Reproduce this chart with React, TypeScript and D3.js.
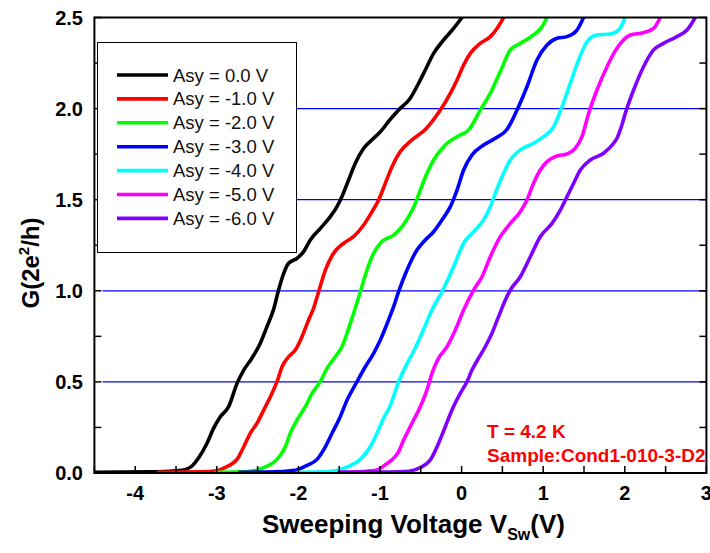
import React from "react";
import * as d3 from "d3";

// Conductance G (in units of 2e^2/h) versus sweeping voltage, one trace per asymmetry bias
const asy0: [number, number][] = [
  [-4.5, 0.004], [-3.8, 0.006], [-3.5, 0.012], [-3.38, 0.02], [-3.3, 0.04], [-3.22, 0.085],
  [-3.12, 0.163], [-3.04, 0.245], [-2.957, 0.309], [-2.855, 0.364], [-2.752, 0.492], [-2.67, 0.565],
  [-2.57, 0.63], [-2.467, 0.712], [-2.385, 0.803], [-2.3, 0.904], [-2.243, 1.004], [-2.18, 1.096],
  [-2.12, 1.151], [-2.017, 1.178], [-1.936, 1.215], [-1.854, 1.279], [-1.73, 1.343], [-1.609, 1.407],
  [-1.527, 1.462], [-1.466, 1.517], [-1.385, 1.608], [-1.303, 1.7], [-1.2, 1.782], [-1.078, 1.837],
  [-0.975, 1.883], [-0.914, 1.919], [-0.772, 1.992], [-0.629, 2.057], [-0.527, 2.139], [-0.445, 2.212],
  [-0.343, 2.303], [-0.22, 2.377], [-0.098, 2.44], [0.005, 2.5],
];
const asy1: [number, number][] = [
  [-3.72, 0.004], [-3.2, 0.006], [-3.0, 0.012], [-2.9, 0.03], [-2.8, 0.055], [-2.752, 0.075],
  [-2.67, 0.144], [-2.59, 0.218], [-2.507, 0.273], [-2.405, 0.364], [-2.324, 0.437], [-2.262, 0.501],
  [-2.2, 0.583], [-2.12, 0.638], [-2.038, 0.675], [-1.956, 0.748], [-1.875, 0.84], [-1.814, 0.904],
  [-1.752, 0.995], [-1.67, 1.114], [-1.569, 1.206], [-1.446, 1.261], [-1.324, 1.297], [-1.2, 1.361],
  [-1.098, 1.434], [-1.017, 1.498], [-0.935, 1.59], [-0.853, 1.681], [-0.751, 1.764], [-0.608, 1.828],
  [-0.445, 1.885], [-0.261, 1.992], [-0.138, 2.084], [-0.056, 2.157], [0.025, 2.239], [0.107, 2.303],
  [0.229, 2.358], [0.352, 2.395], [0.434, 2.44], [0.515, 2.5],
];
const asy2: [number, number][] = [
  [-3.0, 0.004], [-2.7, 0.006], [-2.55, 0.012], [-2.45, 0.025], [-2.35, 0.045], [-2.262, 0.075],
  [-2.16, 0.144], [-2.1, 0.218], [-2.017, 0.291], [-1.915, 0.364], [-1.833, 0.437], [-1.732, 0.501],
  [-1.65, 0.574], [-1.548, 0.638], [-1.466, 0.693], [-1.404, 0.767], [-1.323, 0.877], [-1.241, 0.995],
  [-1.16, 1.114], [-1.078, 1.206], [-0.976, 1.27], [-0.833, 1.306], [-0.73, 1.352], [-0.649, 1.407],
  [-0.567, 1.48], [-0.506, 1.553], [-0.424, 1.645], [-0.343, 1.718], [-0.22, 1.791], [-0.056, 1.846],
  [0.09, 1.885], [0.229, 1.992], [0.352, 2.084], [0.474, 2.203], [0.597, 2.322], [0.719, 2.358],
  [0.882, 2.404], [0.985, 2.449], [1.047, 2.5],
];
const asy3: [number, number][] = [
  [-2.72, 0.004], [-2.3, 0.006], [-2.1, 0.012], [-2.0, 0.02], [-1.9, 0.04], [-1.772, 0.075],
  [-1.67, 0.144], [-1.588, 0.218], [-1.487, 0.309], [-1.404, 0.4], [-1.282, 0.501], [-1.18, 0.583],
  [-1.078, 0.657], [-0.996, 0.73], [-0.895, 0.84], [-0.833, 0.913], [-0.772, 0.995], [-0.669, 1.114],
  [-0.547, 1.224], [-0.445, 1.279], [-0.343, 1.324], [-0.24, 1.389], [-0.138, 1.462], [-0.056, 1.553],
  [0.025, 1.663], [0.127, 1.745], [0.27, 1.8], [0.413, 1.837], [0.556, 1.885], [0.679, 1.992],
  [0.801, 2.12], [0.924, 2.267], [1.047, 2.349], [1.169, 2.386], [1.292, 2.395], [1.414, 2.431],
  [1.495, 2.5],
];
const asy4: [number, number][] = [
  [-2.0, 0.004], [-1.7, 0.006], [-1.55, 0.012], [-1.45, 0.025], [-1.364, 0.04], [-1.241, 0.075],
  [-1.119, 0.144], [-1.037, 0.218], [-0.956, 0.3], [-0.874, 0.37], [-0.772, 0.501], [-0.669, 0.6],
  [-0.547, 0.705], [-0.445, 0.81], [-0.363, 0.895], [-0.24, 0.995], [-0.098, 1.132], [0.025, 1.261],
  [0.168, 1.334], [0.27, 1.389], [0.352, 1.462], [0.413, 1.535], [0.495, 1.626], [0.597, 1.718],
  [0.719, 1.773], [0.882, 1.81], [1.005, 1.846], [1.127, 1.9], [1.23, 2.01], [1.332, 2.139],
  [1.434, 2.267], [1.537, 2.367], [1.659, 2.404], [1.822, 2.409], [1.924, 2.431], [2.006, 2.5],
];
const asy5: [number, number][] = [
  [-1.5, 0.004], [-1.2, 0.008], [-1.04, 0.016], [-0.95, 0.04], [-0.874, 0.065], [-0.78, 0.11],
  [-0.71, 0.181], [-0.608, 0.273], [-0.506, 0.364], [-0.424, 0.456], [-0.363, 0.547], [-0.282, 0.63],
  [-0.179, 0.693], [-0.077, 0.785], [0.025, 0.895], [0.147, 1.004], [0.25, 1.077], [0.352, 1.187],
  [0.474, 1.297], [0.597, 1.37], [0.719, 1.434], [0.801, 1.498], [0.882, 1.59], [0.964, 1.663],
  [1.047, 1.709], [1.169, 1.74], [1.292, 1.751], [1.393, 1.782], [1.475, 1.846], [1.557, 1.974],
  [1.659, 2.102], [1.782, 2.23], [1.904, 2.331], [2.067, 2.404], [2.23, 2.417], [2.353, 2.44],
  [2.435, 2.5],
];
const asy6: [number, number][] = [
  [-1.5, 0.004], [-1.0, 0.005], [-0.7, 0.008], [-0.6, 0.014], [-0.506, 0.03], [-0.384, 0.071],
  [-0.282, 0.163], [-0.2, 0.254], [-0.118, 0.346], [-0.016, 0.437], [0.066, 0.501], [0.127, 0.565],
  [0.208, 0.63], [0.29, 0.693], [0.372, 0.767], [0.453, 0.858], [0.536, 0.95], [0.597, 1.004],
  [0.719, 1.077], [0.842, 1.187], [0.964, 1.297], [1.108, 1.37], [1.21, 1.443], [1.292, 1.517],
  [1.373, 1.59], [1.455, 1.663], [1.577, 1.718], [1.74, 1.755], [1.863, 1.81], [1.904, 1.837],
  [1.95, 1.89], [2.006, 1.974], [2.108, 2.102], [2.23, 2.23], [2.353, 2.322], [2.475, 2.358],
  [2.639, 2.395], [2.762, 2.431], [2.864, 2.5],
];

const seriesData = [asy0, asy1, asy2, asy3, asy4, asy5, asy6];
const seriesLabels = [
  "Asy = 0.0 V", "Asy = -1.0 V", "Asy = -2.0 V", "Asy = -3.0 V",
  "Asy = -4.0 V", "Asy = -5.0 V", "Asy = -6.0 V",
];
const seriesColors = ["#000000", "#ff0000", "#00ff00", "#0000ff", "#00ffff", "#ff00ff", "#8000ff"];

const xTickLabels = [-4, -3, -2, -1, 0, 1, 2, 3];
const yTickLabels = [0, 0.5, 1.0, 1.5, 2.0, 2.5];
const plateauLevels = [0.5, 1.0, 1.5, 2.0];
const annotation = ["T = 4.2 K", "Sample:Cond1-010-3-D2"];

const W = 710;
const H = 553;
const FONT = "'Liberation Sans', Arial, sans-serif";

export default function App() {
  const x = d3.scaleLinear().domain([-4.5, 3]).range([94.4, 706.4]);
  const y = d3.scaleLinear().domain([0, 2.5]).range([473, 17.5]);
  const [x0, x1] = x.range();
  const [yb, yt] = y.range();

  const line = d3
    .line<[number, number]>()
    .x((d) => x(d[0]))
    .y((d) => y(d[1]))
    .curve(d3.curveMonotoneX);

  const xMinor = d3.range(-4.5, 3.001, 0.5);
  const yMinor = d3.range(0, 2.501, 0.25);
  const tickLen = 7;

  const legendX = 97.5;
  const legendY = 42.5;
  const rowStep = 23.9;
  const rowY0 = 75;

  return (
    <svg
      width={W}
      height={H}
      style={{ position: "absolute", left: 0, top: 0, background: "#fff" }}
      fontFamily={FONT}
    >
      <defs>
        <clipPath id="plot-clip">
          <rect x={x0} y={yt} width={x1 - x0} height={yb - yt} />
        </clipPath>
      </defs>
      <rect width={W} height={H} fill="#fff" />

      {/* conductance plateau guides */}
      {plateauLevels.map((g) => (
        <line key={g} x1={x(-4.4)} x2={x1} y1={y(g)} y2={y(g)} stroke="#0000ff" strokeWidth={1.2} />
      ))}

      {/* traces */}
      <g clipPath="url(#plot-clip)">
        {seriesData.map((s, i) => (
          <path
            key={i}
            d={line(s) || ""}
            fill="none"
            stroke={seriesColors[i]}
            strokeWidth={3.6}
            strokeLinejoin="round"
            strokeLinecap="round"
          />
        ))}
      </g>

      {/* frame */}
      <rect x={x0} y={yt} width={x1 - x0} height={yb - yt} fill="none" stroke="#000" strokeWidth={2} />

      {/* x ticks (inside) */}
      {xMinor.map((v) => (
        <line key={"xt" + v} x1={x(v)} x2={x(v)} y1={yb} y2={yb - tickLen} stroke="#000" strokeWidth={1.5} />
      ))}
      {xTickLabels.map((v) => (
        <text
          key={"xl" + v}
          x={x(v)}
          y={500}
          textAnchor="middle"
          fontSize={20}
          fontWeight="bold"
          fill="#000"
        >
          {v}
        </text>
      ))}

      {/* y ticks (inside, left and right) */}
      {yMinor.map((g) => (
        <g key={"yt" + g}>
          <line x1={x0} x2={x0 + tickLen} y1={y(g)} y2={y(g)} stroke="#000" strokeWidth={1.5} />
          <line x1={x1} x2={x1 - tickLen} y1={y(g)} y2={y(g)} stroke="#000" strokeWidth={1.5} />
        </g>
      ))}
      {yTickLabels.map((g) => (
        <text
          key={"yl" + g}
          x={83}
          y={y(g) + 7}
          textAnchor="end"
          fontSize={20}
          fontWeight="bold"
          fill="#000"
        >
          {g.toFixed(1)}
        </text>
      ))}

      {/* axis titles */}
      <text x={262} y={533} fontSize={26} fontWeight="bold" fill="#000">
        Sweeping Voltage V
        <tspan fontSize={16} dy={7}>Sw</tspan>
        <tspan dy={-7}>(V)</tspan>
      </text>
      <text
        transform="translate(39,263) rotate(-90)"
        textAnchor="middle"
        fontSize={24}
        fontWeight="bold"
        fill="#000"
      >
        G(2e
        <tspan fontSize={15} dy={-10}>2</tspan>
        <tspan dy={10}>/h)</tspan>
      </text>

      {/* legend */}
      <rect x={legendX} y={legendY} width={199} height={210} fill="#fff" stroke="#000" strokeWidth={1} />
      {seriesLabels.map((label, i) => {
        const cy = rowY0 + i * rowStep;
        return (
          <g key={label}>
            <line x1={117} x2={168} y1={cy} y2={cy} stroke={seriesColors[i]} strokeWidth={3.6} />
            <text x={173} y={cy + 6.5} fontSize={18.5} fill="#111">
              {label}
            </text>
          </g>
        );
      })}

      {/* measurement note */}
      {annotation.map((t, i) => (
        <text key={t} x={487} y={438 + i * 23.5} fontSize={19} fontWeight="bold" fill="#ff0000">
          {t}
        </text>
      ))}
    </svg>
  );
}
